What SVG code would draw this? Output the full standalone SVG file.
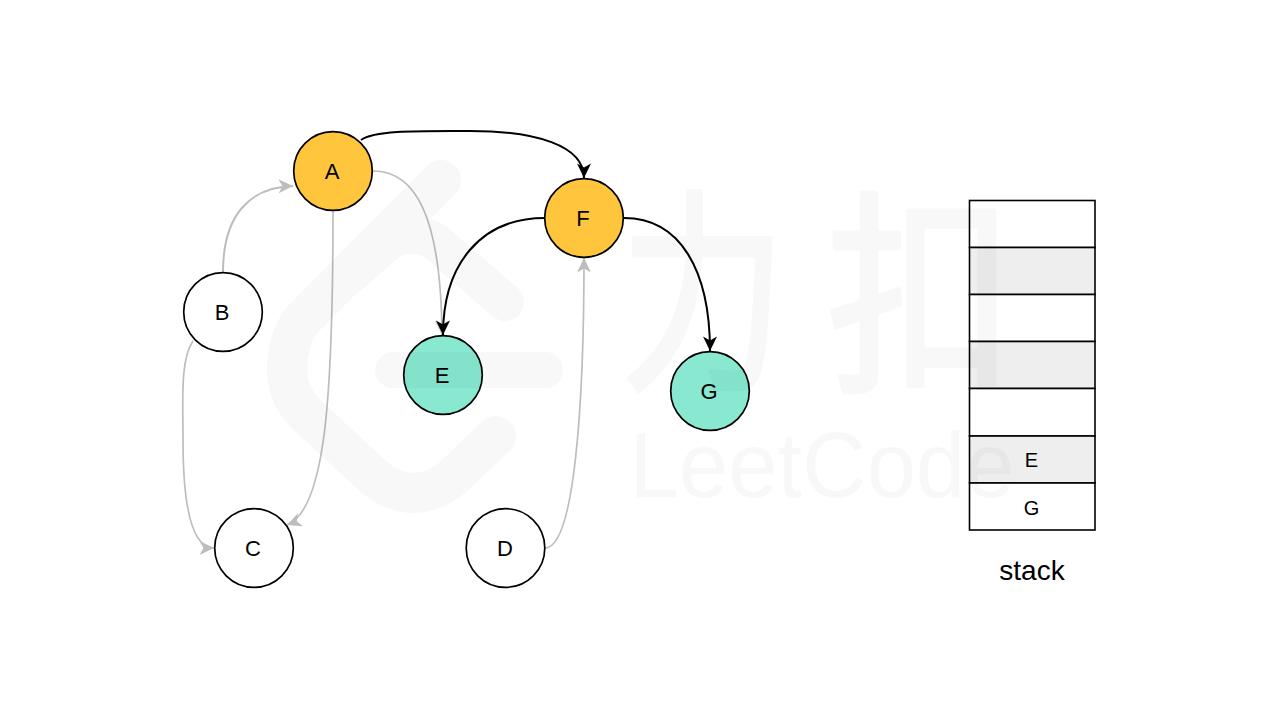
<svg xmlns="http://www.w3.org/2000/svg" width="1280" height="720" viewBox="0 0 1280 720">
<style>
text{font-family:"Liberation Sans",Arial,sans-serif;fill:#000;text-anchor:middle}
.n circle{stroke:#000;stroke-width:1.7}
.n text{font-size:22px}
.w{fill:#fff}.o{fill:#FFC53D}.t{fill:#88E8D0}
.c path{fill:none}
.k{stroke:#000;stroke-width:2;marker-end:url(#ak)}
.g{stroke:#bdbdbd;stroke-width:1.7;marker-end:url(#ag)}
.s rect{stroke:#000;stroke-width:1.6}
.s text{font-size:20px}
.e{fill:#fff}.f{fill:#eee}
.wm{opacity:.03}
.wm path{fill:none;stroke:#000;stroke-linecap:round;stroke-linejoin:round}
.wm text{fill:#000}
.wm .cjk{font-family:"Noto Sans CJK SC",sans-serif;font-size:215px;stroke:#000;stroke-width:5;stroke-linejoin:round}
</style>
<defs>
<marker id="ak" markerUnits="userSpaceOnUse" markerWidth="18" markerHeight="18" refX="16" refY="9" orient="auto"><path d="M16 9L1.500 2L5.500 9L1.500 16Z" fill="#000"/></marker>
<marker id="ag" markerUnits="userSpaceOnUse" markerWidth="18" markerHeight="18" refX="16" refY="9" orient="auto"><path d="M16 9L1.500 2L5.500 9L1.500 16Z" fill="#bdbdbd"/></marker>
</defs>
<rect width="1280" height="720" fill="#fff"/>
<g id="connectors" class="c">
<path class="g" style="stroke-width:2" d="M223 272C223 215 250 187 293 186"/>
<path class="g" d="M333 211C333 400 325 510 287 525"/>
<path class="g" d="M193 341C180 360 183 400 183 440C183 500 190 548 214 548"/>
<path class="g" d="M373 171C415 171 441 215 442 335"/>
<path class="g" d="M545 548C575 548 584 400 584 258"/>
<path class="k" d="M361 140C375 130 420 131 470 131C535 131 584 145 584 178"/>
<path class="k" d="M545 218C480 218 443 265 443 335"/>
<path class="k" d="M624 218C680 218 710 270 710 351"/>
</g>
<g id="node-A" class="n"><circle class="o" cx="333" cy="171" r="39.300"/><text x="332" y="179">A</text></g>
<g id="node-B" class="n"><circle class="w" cx="223" cy="312" r="39.300"/><text x="222" y="320">B</text></g>
<g id="node-C" class="n"><circle class="w" cx="254" cy="548" r="39.300"/><text x="253" y="556">C</text></g>
<g id="node-D" class="n"><circle class="w" cx="505.500" cy="548" r="39.300"/><text x="505" y="556">D</text></g>
<g id="node-E" class="n"><circle class="t" cx="443" cy="375" r="39.300"/><text x="442" y="383">E</text></g>
<g id="node-F" class="n"><circle class="o" cx="584" cy="218" r="39.300"/><text x="583" y="226">F</text></g>
<g id="node-G" class="n"><circle class="t" cx="710" cy="391" r="39.300"/><text x="709" y="399">G</text></g>
<g id="stack" class="s">
<rect class="e" x="969.500" y="200.500" width="125.500" height="47"/>
<rect class="f" x="969.500" y="247.500" width="125.500" height="47"/>
<rect class="e" x="969.500" y="294.500" width="125.500" height="47"/>
<rect class="f" x="969.500" y="341.500" width="125.500" height="47"/>
<rect class="e" x="969.500" y="388.500" width="125.500" height="47.500"/>
<rect class="f" x="969.500" y="436" width="125.500" height="47"/>
<rect class="e" x="969.500" y="483" width="125.500" height="47"/>
<text x="1031.500" y="467">E</text>
<text x="1031.500" y="514.500">G</text>
<text x="1032" y="580" style="font-size:28px">stack</text>
</g>
<g id="watermark" class="wm">
<path stroke-width="40" d="M441 180L302 320Q287 340 287 370Q287 395 306 414L375 478Q413 508 452 478L496 436"/>
<path stroke-width="38" d="M505 302L437 243Q415 228 390 240L350 275"/>
<path stroke-width="36" d="M393 370H545"/>
<text class="cjk" transform="translate(703 372) scale(.77 1)">力</text>
<text class="cjk" transform="translate(920 374) scale(.87 1)">扣</text>
<text x="822" y="497" font-size="92" textLength="385" lengthAdjust="spacingAndGlyphs">LeetCode</text>
</g>
</svg>
